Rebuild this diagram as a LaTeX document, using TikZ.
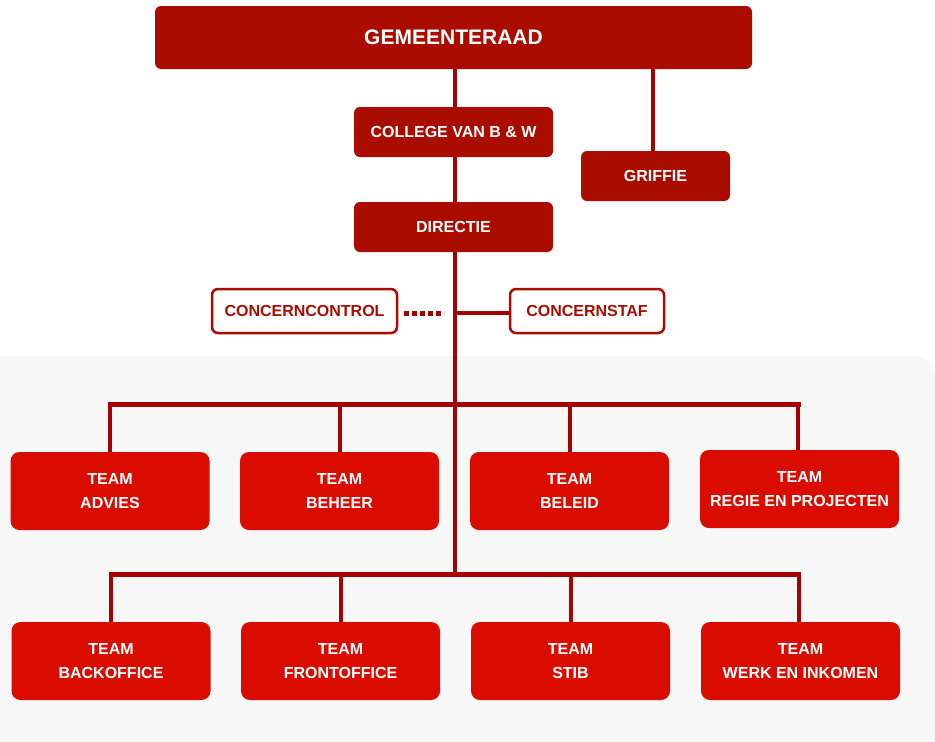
\documentclass[tikz,border=0pt]{standalone}
\usepackage{fontspec}
\setmainfont{Liberation Sans}
\usetikzlibrary{backgrounds}
\definecolor{darkred}{HTML}{AA0C00}
\definecolor{linered}{HTML}{A50202}
\definecolor{teamred}{HTML}{DA0C00}
\definecolor{bggrey}{HTML}{F7F7F7}
\begin{document}
\begin{tikzpicture}[x=1pt,y=-1pt,
  topbox/.style={fill=darkred,rounded corners=6pt,text=white,font=\bfseries\fontsize{16}{19}\selectfont,align=center,inner sep=0pt},
  outbox/.style={fill=white,draw=darkred,line width=2.5pt,rounded corners=6pt,text=darkred,font=\bfseries\fontsize{16}{19}\selectfont,align=center,inner sep=0pt},
  teambox/.style={fill=teamred,rounded corners=9pt,text=white,font=\bfseries\fontsize{16}{24}\selectfont,align=center,inner sep=0pt,minimum width=199pt,minimum height=78pt},
  conn/.style={draw=linered,line width=4.5pt},
  bus/.style={draw=linered,line width=5pt}]
\useasboundingbox (0,0) rectangle (935,742);

% nodes
\node[topbox,minimum width=597pt,minimum height=63pt,font=\bfseries\fontsize{21}{24}\selectfont] (gr) at (453.5,37.5) {GEMEENTERAAD};
\node[topbox,minimum width=199pt,minimum height=50pt] (col) at (453.5,132) {COLLEGE VAN B \& W};
\node[topbox,minimum width=149pt,minimum height=50pt] (grif) at (655.5,176) {GRIFFIE};
\node[topbox,minimum width=199pt,minimum height=50pt] (dir) at (453.5,227) {DIRECTIE};
\node[outbox,minimum width=185pt,minimum height=44pt] (ccon) at (304.5,311) {CONCERNCONTROL};
\node[outbox,minimum width=154pt,minimum height=44pt] (cstaf) at (587,311) {CONCERNSTAF};

\coordinate (cc) at (455,313);
\coordinate (b1) at (455,404);
\coordinate (b2) at (455,574);

\node[teambox] (t1) at (110,491) {TEAM\\ADVIES};
\node[teambox] (t2) at (339.5,491) {TEAM\\BEHEER};
\node[teambox] (t3) at (569.5,491) {TEAM\\BELEID};
\node[teambox] (t4) at (799.5,489) {TEAM\\REGIE EN PROJECTEN};
\node[teambox] (t5) at (111,661) {TEAM\\BACKOFFICE};
\node[teambox] (t6) at (340.5,661) {TEAM\\FRONTOFFICE};
\node[teambox] (t7) at (570.5,661) {TEAM\\STIB};
\node[teambox] (t8) at (800.5,661) {TEAM\\WERK EN INKOMEN};

\begin{scope}[on background layer]
\fill[white] (0,0) rectangle (935,742);
\fill[bggrey] (0,742) -- (0,356) [rounded corners=20pt] -- (935,356) [sharp corners] -- (935,742) -- cycle;
% connectors
\draw[conn] (gr.south -| 455,0) -- (b2);
\draw[conn] (grif.north -| 653,0) -- (gr.south -| 653,0);
\draw[conn] (cc) -- (cc -| cstaf.west);
\draw[linered,line width=5pt,dash pattern=on 5pt off 3pt] (ccon.east |- cc) ++(6,0) -- ++(40,0);
% buses
\draw[bus] (107.5,404) -- (800.5,404);
\foreach \t/\x in {t1/110,t2/340,t3/570,t4/798}{
  \draw[conn] (\x,404) -- (\t.north -| \x,0);
}
\draw[bus] (108.5,574) -- (800.5,574);
\foreach \t/\x in {t5/111,t6/341,t7/571,t8/799}{
  \draw[conn] (\x,574) -- (\t.north -| \x,0);
}
\end{scope}
\end{tikzpicture}
\end{document}
